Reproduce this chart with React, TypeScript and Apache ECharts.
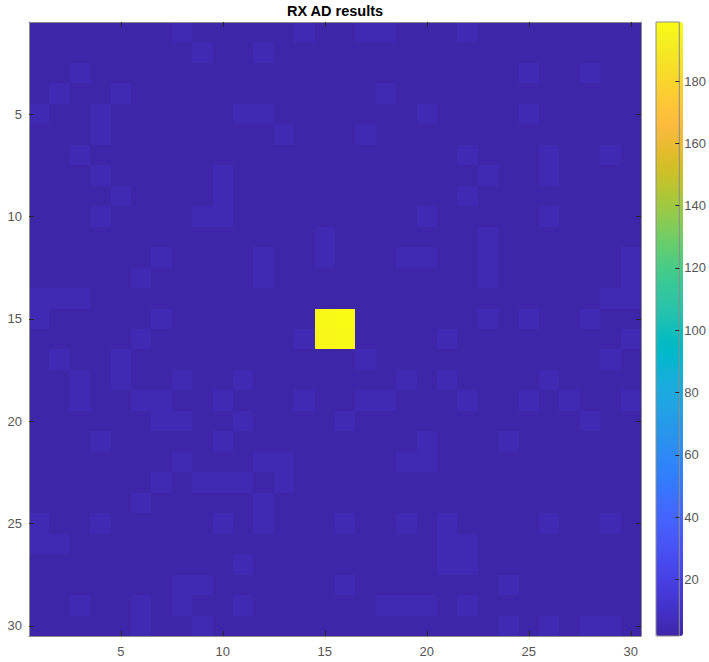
import React, { useEffect, useRef } from 'react';
import * as echarts from 'echarts';

const chartTitle = 'RX AD results';

const xCategories = ['1','2','3','4','5','6','7','8','9','10','11','12','13','14','15','16','17','18','19','20','21','22','23','24','25','26','27','28','29','30'];
const yCategories = ['1','2','3','4','5','6','7','8','9','10','11','12','13','14','15','16','17','18','19','20','21','22','23','24','25','26','27','28','29','30'];

const colorbarTicks = [20, 40, 60, 80, 100, 120, 140, 160, 180];
const colorMin = 1.8;
const colorMax = 199;

// MATLAB parula (64 levels)
const parula = [
  '#3e26a8','#402ab4','#422ec0','#4332cb','#4537d5','#463cde','#4741e5','#4747eb',
  '#484df0','#4852f4','#4758f8','#465efb','#4563fd','#4269fe','#3e6fff','#3875fe',
  '#327cfc','#2f81fa','#2e87f7','#2d8cf3','#2b91ef','#2796eb','#259be8','#23a0e5',
  '#20a5e3','#1ca9df','#18addb','#12b1d6','#08b5d0','#01b8ca','#02bac3','#0bbdbd',
  '#19bfb6','#24c1ae','#2cc4a7','#31c69f','#37c897','#3fca8e','#4acb84','#57cc7a',
  '#64cd6f','#72cd64','#81cc59','#8fcb4e','#9dc943','#abc739','#b9c431','#c5c22a',
  '#d1bf27','#dcbd29','#e6bb2d','#f0ba36','#f8ba3d','#febe3c','#fec338','#fec934',
  '#fccf30','#fad62d','#f7dc2a','#f5e327','#f5e924','#f6ef20','#f7f51b','#f9fb15'
];

// RX anomaly scores, rows 1..30 (top to bottom), columns 1..30 (left to right)
const rxValues: number[][] = [
  [2,2,2,2,2, 2,2,5,2,2, 2,2,2,5,2, 2,5,5,2,2, 2,5,2,2,2, 2,2,2,2,2],
  [2,2,2,2,2, 2,2,2,5,2, 2,5,2,2,2, 2,2,2,2,2, 2,2,2,2,2, 2,2,2,2,2],
  [2,2,5,2,2, 2,2,2,2,2, 2,2,2,2,2, 2,2,2,2,2, 2,2,2,2,5, 2,2,5,2,2],
  [2,5,2,2,5, 2,2,2,2,2, 2,2,2,2,2, 2,2,5,2,2, 2,2,2,2,2, 2,2,2,2,2],
  [5,2,2,5,2, 2,2,2,2,2, 5,5,2,2,2, 2,2,2,2,5, 2,2,2,2,5, 2,2,2,2,2],
  [2,2,2,5,2, 2,2,2,2,2, 2,2,5,2,2, 2,5,2,2,2, 2,2,2,2,2, 2,2,2,2,2],
  [2,2,5,2,2, 2,2,2,2,2, 2,2,2,2,2, 2,2,2,2,2, 2,5,2,2,2, 5,2,2,5,2],
  [2,2,2,5,2, 2,2,2,2,5, 2,2,2,2,2, 2,2,2,2,2, 2,2,5,2,2, 5,2,2,2,2],
  [2,2,2,2,5, 2,2,2,2,5, 2,2,2,2,2, 2,2,2,2,2, 2,5,2,2,2, 2,2,2,2,2],
  [2,2,2,5,2, 2,2,2,5,5, 2,2,2,2,2, 2,2,2,2,5, 2,2,2,2,2, 5,2,2,2,2],
  [2,2,2,2,2, 2,2,2,2,2, 2,2,2,2,5, 2,2,2,2,2, 2,2,5,2,2, 2,2,2,2,2],
  [2,2,2,2,2, 2,5,2,2,2, 2,5,2,2,5, 2,2,2,5,5, 2,2,5,2,2, 2,2,2,2,5],
  [2,2,2,2,2, 5,2,2,2,2, 2,5,2,2,2, 2,2,2,2,2, 2,2,5,2,2, 2,2,2,2,5],
  [5,5,5,2,2, 2,2,2,2,2, 2,2,2,2,2, 2,2,2,2,2, 2,2,2,2,2, 2,2,2,5,5],
  [5,2,2,2,2, 2,5,2,2,2, 2,2,2,2,198, 199,2,2,2,2, 2,2,5,2,5, 2,2,5,2,2],
  [2,2,2,2,2, 5,2,2,2,2, 2,2,2,5,197, 198,2,2,2,2, 5,2,2,2,2, 2,2,2,2,5],
  [2,5,2,2,5, 2,2,2,2,2, 2,2,2,2,2, 2,5,2,2,2, 2,2,2,2,2, 2,2,2,5,2],
  [2,2,5,2,5, 2,2,5,2,2, 5,2,2,2,2, 2,2,2,5,2, 5,2,2,2,2, 5,2,2,2,2],
  [2,2,5,2,2, 5,5,2,2,5, 2,2,2,5,2, 2,5,5,2,2, 2,5,2,2,5, 2,5,2,2,5],
  [2,2,2,2,2, 2,5,5,2,2, 5,2,2,2,2, 5,2,2,2,2, 2,2,2,2,2, 2,2,5,2,2],
  [2,2,2,5,2, 2,2,2,2,5, 2,2,2,2,2, 2,2,2,2,5, 2,2,2,5,2, 2,2,2,2,2],
  [2,2,2,2,2, 2,2,5,2,2, 2,5,5,2,2, 2,2,2,5,5, 2,2,2,2,2, 2,2,2,2,2],
  [2,2,2,2,2, 2,5,2,5,5, 5,2,5,2,2, 2,2,2,2,2, 2,2,2,2,2, 2,2,2,2,2],
  [2,2,2,2,2, 5,2,2,2,2, 2,5,2,2,2, 2,2,2,2,2, 2,2,2,2,2, 2,2,2,2,2],
  [5,2,2,5,2, 2,2,2,2,5, 2,5,2,2,2, 5,2,2,5,2, 5,2,2,2,2, 5,2,2,5,2],
  [5,5,2,2,2, 2,2,2,2,2, 2,2,2,2,2, 2,2,2,2,2, 5,5,2,2,2, 2,2,2,2,2],
  [2,2,2,2,2, 2,2,2,2,2, 5,2,2,2,2, 2,2,2,2,2, 5,5,2,2,2, 2,2,2,2,2],
  [2,2,2,2,2, 2,2,5,5,2, 2,2,2,2,2, 5,2,2,2,2, 2,2,2,5,2, 2,2,2,2,2],
  [2,2,5,2,2, 5,2,5,2,2, 5,2,2,2,2, 2,2,5,5,5, 2,5,2,2,2, 2,2,2,2,2],
  [2,2,2,2,2, 5,2,2,5,2, 2,2,2,2,2, 2,2,2,2,2, 2,2,2,5,2, 5,2,5,5,2]
];

const FONT = '"Liberation Sans", Arial, Helvetica, sans-serif';

export default function App() {
  const ref = useRef<HTMLDivElement>(null);

  useEffect(() => {
    document.body.style.margin = '0';
    if (!ref.current) return;
    const chart = echarts.init(ref.current, null, { renderer: 'svg' });

    const data: number[][] = [];
    rxValues.forEach((row, r) => {
      row.forEach((v, c) => {
        data.push([c, r, v]);
      });
    });

    const every5 = (i: number) => (i + 1) % 5 === 0;
    const tickStyle = { color: '#262626', width: 1 };
    const boxLine = { show: true, lineStyle: { color: '#8c8c8c', width: 1 } };
    const labelStyle = { fontSize: 13, color: '#555555', fontFamily: FONT };
    const noSplit = { show: false };

    const option: any = {
      animation: false,
      backgroundColor: '#ffffff',
      textStyle: { fontFamily: FONT },
      graphic: [
        {
          type: 'text',
          x: 335,
          y: 11,
          style: {
            text: chartTitle,
            fontSize: 14.5,
            fontWeight: 'bold',
            fontFamily: FONT,
            fill: '#000000',
            align: 'center',
            verticalAlign: 'middle'
          }
        }
      ],
      grid: [
        { left: 29, top: 22, width: 612, height: 614, containLabel: false, show: false },
        {
          left: 656, top: 22, width: 27, height: 614,
          show: true, backgroundColor: 'transparent',
          borderColor: '#8c8c8c', borderWidth: 1, z: 10
        }
      ],
      xAxis: [
        {
          type: 'category', gridIndex: 0, data: xCategories, position: 'bottom', z: 10,
          axisLine: boxLine,
          axisTick: { show: true, inside: true, length: 5, alignWithLabel: true, interval: every5, lineStyle: tickStyle },
          axisLabel: { show: true, interval: every5, margin: 9, ...labelStyle },
          splitLine: noSplit, splitArea: noSplit, minorTick: noSplit, minorSplitLine: noSplit
        },
        {
          type: 'category', gridIndex: 0, data: xCategories, position: 'top', z: 10,
          axisLine: boxLine,
          axisTick: { show: true, inside: true, length: 5, alignWithLabel: true, interval: every5, lineStyle: tickStyle },
          axisLabel: { show: false },
          splitLine: noSplit, splitArea: noSplit, minorTick: noSplit, minorSplitLine: noSplit
        },
        {
          type: 'category', gridIndex: 1, data: [''], show: false
        }
      ],
      yAxis: [
        {
          type: 'category', gridIndex: 0, data: yCategories, inverse: true, position: 'left', z: 10,
          axisLine: boxLine,
          axisTick: { show: true, inside: true, length: 5, alignWithLabel: true, interval: every5, lineStyle: tickStyle },
          axisLabel: { show: true, interval: every5, margin: 7, ...labelStyle },
          splitLine: noSplit, splitArea: noSplit, minorTick: noSplit, minorSplitLine: noSplit
        },
        {
          type: 'category', gridIndex: 0, data: yCategories, inverse: true, position: 'right', z: 10,
          axisLine: boxLine,
          axisTick: { show: true, inside: true, length: 5, alignWithLabel: true, interval: every5, lineStyle: tickStyle },
          axisLabel: { show: false },
          splitLine: noSplit, splitArea: noSplit, minorTick: noSplit, minorSplitLine: noSplit
        },
        {
          type: 'value', gridIndex: 1, min: colorMin, max: colorMax, position: 'right', z: 11,
          axisLine: { show: false },
          splitLine: noSplit,
          axisTick: { show: true, inside: true, length: 4, customValues: colorbarTicks, lineStyle: tickStyle },
          axisLabel: { show: true, customValues: colorbarTicks, margin: 5, ...labelStyle }
        }
      ],
      visualMap: {
        type: 'continuous',
        min: colorMin,
        max: colorMax,
        seriesIndex: 0,
        dimension: 2,
        calculable: false,
        hoverLink: false,
        orient: 'vertical',
        left: 656,
        top: 22,
        itemWidth: 27,
        itemHeight: 614,
        padding: 0,
        inRange: { color: parula }
      },
      series: [
        {
          type: 'custom',
          xAxisIndex: 0,
          yAxisIndex: 0,
          data,
          clip: true,
          encode: { x: 0, y: 1 },
          renderItem: (params: any, api: any) => {
            const p = api.coord([api.value(0), api.value(1)]);
            const s = api.size([1, 1]);
            const x0 = Math.round(p[0] - s[0] / 2);
            const x1 = Math.round(p[0] + s[0] / 2);
            const y0 = Math.round(p[1] - s[1] / 2);
            const y1 = Math.round(p[1] + s[1] / 2);
            return {
              type: 'rect',
              shape: { x: x0, y: y0, width: x1 - x0 + 0.5, height: y1 - y0 + 0.5 },
              style: { fill: api.visual('color'), stroke: 'none', lineWidth: 0 }
            };
          },
          emphasis: { disabled: true }
        }
      ]
    };

    chart.setOption(option);
    return () => chart.dispose();
  }, []);

  return <div ref={ref} style={{ width: 709, height: 662 }} />;
}
